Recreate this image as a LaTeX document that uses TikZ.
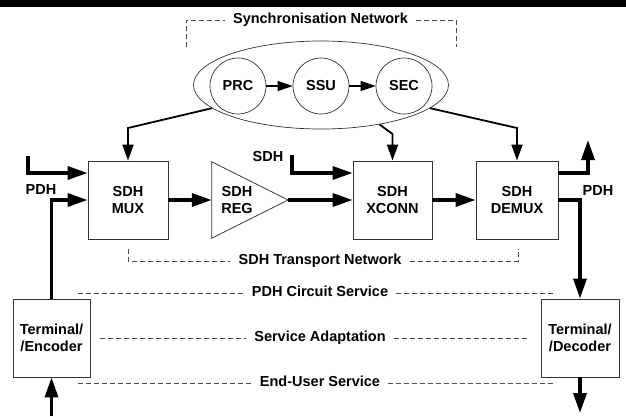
\documentclass[tikz,border=0pt]{standalone}
\usepackage{fontspec}
\setmainfont{Liberation Sans}
\usetikzlibrary{arrows.meta,shapes.geometric,calc}
\begin{document}
\begin{tikzpicture}[x=1pt,y=-1pt,
  font=\bfseries\fontsize{14.5}{17}\selectfont,
  box/.style={draw=black!80, line width=0.8pt, minimum width=80pt, minimum height=78pt, inner sep=0pt, align=center, fill=white},
  sig/.style={line width=3.4pt, -{Triangle[length=20pt,width=13pt]}},
  syn/.style={line width=1.8pt, -{Triangle[length=16pt,width=11pt]}},
  clkarrow/.style={line width=1.5pt, -{Triangle[length=15pt,width=10pt]}},
  clk/.style={circle, draw=black!80, line width=0.7pt, minimum size=56pt, inner sep=0pt},
  dsh/.style={draw=black!70, line width=0.7pt, dash pattern=on 5pt off 3pt},
  lbl/.style={inner xsep=8pt, inner ysep=0pt, text height=10.5pt, text depth=3pt}
]
\useasboundingbox (0,0) rectangle (626,416);
\fill[black] (0,0) rectangle (626,7);

% synchronisation network
\node[ellipse, draw=black!80, line width=0.7pt, minimum width=255pt, minimum height=88pt, inner sep=0pt] (sync) at (321,85) {};
\node[clk] (prc) at (238,86) {PRC};
\node[clk] (ssu) at (321,86) {SSU};
\node[clk] (sec) at (404,86) {SEC};
\draw[clkarrow] (prc) -- (ssu);
\draw[clkarrow] (ssu) -- (sec);

% boxes
\node[box] (mux) at (128,200) {SDH\\MUX};
\node[minimum width=76pt, minimum height=76pt, inner sep=0pt] (reg) at (250,200) {};
\draw[draw=black!80, line width=0.8pt, fill=white] (reg.north west) -- (reg.east) -- (reg.south west) -- cycle;
\node[align=center] (regt) at (237,200) {SDH\\REG};
\node[box, minimum width=79pt] (xconn) at (392.5,200) {SDH\\XCONN};
\node[box, minimum width=82pt] (demux) at (517,200) {SDH\\DEMUX};
\node[box, minimum width=77pt] (enc) at (51.5,338) {Terminal/\\/Encoder};
\node[box, minimum width=78pt] (dec) at (580,338) {Terminal/\\/Decoder};

% sync distribution
\coordinate (k1) at (128,128);
\coordinate (k2) at (392.5,134);
\coordinate (k3) at (517,128);
\draw[syn] (sync.192.4) -- (k1) -- (mux.north);
\draw[syn] (sync.326.5) -- (k2) -- (xconn.north);
\draw[syn] (sync.348.4) -- (k3) -- (demux.north);

% signal lines
\coordinate (pdhin) at (28,156);
\coordinate (sdhin) at (292,155);
\coordinate (pdhout) at (588,140);
\coordinate (encin) at (51.5,416);
\coordinate (decout) at (580,413);
\draw[sig] (pdhin) |- ([yshift=27pt]mux.west);
\draw[sig] (enc.north) |- (mux.west);
\draw[sig] (mux.east) -- (reg.west);
\draw[sig] (reg.east) -- (xconn.west);
\draw[sig] (sdhin) |- ([yshift=27pt]xconn.west);
\draw[sig] (xconn.east) -- (demux.west);
\draw[sig] ([yshift=27pt]demux.east) -| (pdhout);
\draw[sig] (demux.east) -| (dec.north);
\draw[sig] (encin) -- (enc.south);
\draw[sig] (dec.south) -- (decout);

\node (pdhl) at (41,190) {PDH};
\node (sdhl) at (268,157) {SDH};
\node (pdhr) at (598,191) {PDH};

% dashed labels
\node[lbl] (sn) at (320.5,20) {Synchronisation Network};
\coordinate (snl) at (186,47);
\coordinate (snr) at (456,47);
\draw[dsh] (snl) |- (sn.west);
\draw[dsh] (sn.east) -| (snr);

\node[lbl] (tn) at (320,261) {SDH Transport Network};
\coordinate (tnl) at (128,249);
\coordinate (tnr) at (518,249);
\draw[dsh] (tnl) |- (tn.west);
\draw[dsh] (tn.east) -| (tnr);

\node[lbl] (cs) at (320,293) {PDH Circuit Service};
\coordinate (csl) at (78,293);
\coordinate (csr) at (553,293);
\draw[dsh] (csl) -- (cs.west);
\draw[dsh] (cs.east) -- (csr);

\node[lbl] (sa) at (320,338) {Service Adaptation};
\coordinate (sal) at (100,338);
\coordinate (sar) at (529,338);
\draw[dsh] (sal) -- (sa.west);
\draw[dsh] (sa.east) -- (sar);

\node[lbl] (eu) at (320,383) {End-User Service};
\coordinate (eul) at (78,383);
\coordinate (eur) at (553,383);
\draw[dsh] (eul) -- (eu.west);
\draw[dsh] (eu.east) -- (eur);
\end{tikzpicture}
\end{document}
